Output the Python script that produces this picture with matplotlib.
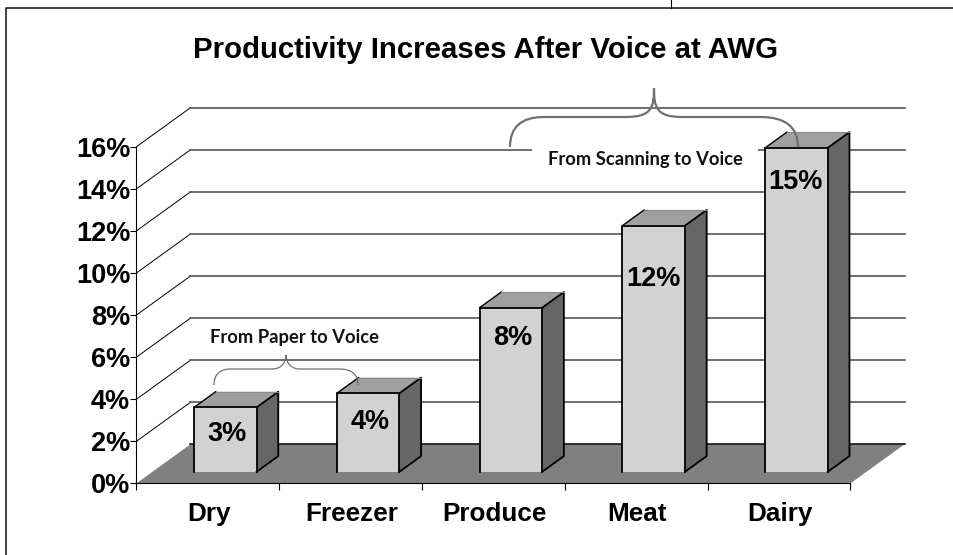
import matplotlib
matplotlib.use('Agg')
import matplotlib.pyplot as plt
from matplotlib.patches import Polygon, PathPatch, Rectangle
from matplotlib.path import Path

categories = ['Dry', 'Freezer', 'Produce', 'Meat', 'Dairy']
values = [3.06, 3.73, 7.8, 11.7, 15.4]
bar_labels = ['3%', '4%', '8%', '12%', '15%']
y_ticks = [0, 2, 4, 6, 8, 10, 12, 14, 16]

W, H = 954, 555
plt.rcParams['font.family'] = ['Liberation Sans', 'DejaVu Sans']

fig = plt.figure(figsize=(W / 100, H / 100), dpi=100)
# plot box in pixels: x 136.5-850.5, y 483.3 (0%) - 146.7 (16%)
ax = fig.add_axes([136.5 / W, 1 - 483.3 / H, 714 / W, 336.6 / H])
ax.set_xlim(0, 5)
ax.set_ylim(0, 16)
for s in ['top', 'right']:
    ax.spines[s].set_visible(False)
for s in ['left', 'bottom']:
    ax.spines[s].set_linewidth(0.8)
    ax.spines[s].set_zorder(2.5)

# depth of the fake 3d box, in data units
DX, DY = 54 / 142.8, 39 / 21.04


def pr(x, y, d):
    return (x + d * DX, y + d * DY)


# floor
ax.add_patch(Polygon([pr(0, 0, 0), pr(5, 0, 0), pr(5, 0, 1), pr(0, 0, 1)],
                     fc='#808080', ec='none', clip_on=False, zorder=1))
ax.plot(*zip(pr(0, 0, 1), pr(5, 0, 1)), color='black', lw=1.1, clip_on=False, zorder=1.2)

# walls
for t in y_ticks[1:]:
    ax.plot(*zip(pr(0, t, 0), pr(0, t, 1)), color='black', lw=0.7, clip_on=False, zorder=1.1)
    ax.plot(*zip(pr(0, t, 1), pr(5, t, 1)), color='#5c5c5c', lw=1.25, clip_on=False, zorder=1.1)

# bars
half = 62.6 / 142.8 / 2
d0, d1 = 0.297, 0.697
for i, v in enumerate(values):
    c = i + 0.51
    l, r = c - half, c + half
    front = [pr(l, 0, d0), pr(r, 0, d0), pr(r, v, d0), pr(l, v, d0)]
    side = [pr(r, 0, d0), pr(r, 0, d1), pr(r, v, d1), pr(r, v, d0)]
    top = [pr(l, v, d0), pr(r, v, d0), pr(r, v, d1), pr(l, v, d1)]
    ax.add_patch(Polygon(top, fc='#9f9f9f', ec='none', clip_on=False, zorder=3))
    ax.add_patch(Polygon(side, fc='#666666', ec='none', clip_on=False, zorder=3))
    ax.add_patch(Polygon(front, fc='#d2d2d2', ec='none', clip_on=False, zorder=3))
    ax.plot(*zip(front[0], front[3], front[2], front[1]), color='black', lw=1.3,
            clip_on=False, zorder=3.1)
    ax.plot(*zip(front[1], side[1], side[2], front[2]), color='black', lw=1.3,
            clip_on=False, zorder=3.1)
    ax.plot(*zip(front[3], top[3]), color='black', lw=1.0, clip_on=False, zorder=3.1)
    ax.plot(*zip(top[3], top[2]), color='#8a8a8a', lw=0.8, clip_on=False, zorder=3.1)

# value labels, offset in points from the top of the front face
lab_dx = [1, 1.3, 1, -0.5, -0.5]
lab_dy = [-19.5, -21, -22, -38.3, -25]
for i, v in enumerate(values):
    ax.annotate(bar_labels[i], pr(i + 0.51, v, d0), xytext=(lab_dx[i], lab_dy[i]),
                textcoords='offset points', ha='center', va='center',
                fontsize=19.5, fontweight='bold', color='black', zorder=4,
                annotation_clip=False)

ax.set_yticks(y_ticks)
ax.set_yticklabels(['%d%%' % t for t in y_ticks], fontsize=19.5, fontweight='bold')
ax.set_xticks(range(6))
ax.set_xticklabels([])
ax.tick_params(axis='both', length=4, width=0.8, pad=0.5)
ax.tick_params(axis='x', length=5)
for i, c in enumerate(categories):
    ax.annotate(c, (i + 0.5, 0), xytext=(0.8, -22), textcoords='offset points',
                ha='center', va='center', fontsize=18.8, fontweight='bold',
                annotation_clip=False)

# overlay in image pixels for frame, title and the hand drawn callouts
ov = fig.add_axes([0, 0, 1, 1], facecolor='none')
ov.set_xlim(0, W)
ov.set_ylim(H, 0)
ov.axis('off')
ov.plot([6.5, 6.5, W], [H, 7.5, 7.5], color='#101010', lw=1.1)
ov.plot([671.5, 671.5], [0, 7.5], color='black', lw=0.8)
ov.text(486, 58, 'Productivity Increases After Voice at AWG', ha='center', va='baseline',
        fontsize=21.2, fontweight='bold')

ov.add_patch(Rectangle((532, 147), 226, 20, fc='white', ec='none'))
ov.text(645, 159, 'From Scanning to Voice', ha='center', va='center', fontsize=13.2,
        fontweight='bold', family='Lato', color='#111111')
ov.text(295, 337, 'From Paper to Voice', ha='center', va='center', fontsize=13.2,
        fontweight='bold', family='Lato', color='#111111')


def brace(x0, y0, x1, y1, xm, tip):
    # curly bracket: ends at y0, straight run at y1, point at tip
    w = (xm - x0) * 0.26
    verts = [(x0, y0), (x0, y1), (x0 + w * 0.9, y1), (x0 + w, y1),
             (xm - w * 0.9, y1), (xm - w * 0.9, y1), (xm - w * 0.75, y1),
             (xm - 2, y1), (xm, y1 - 10), (xm, tip),
             (xm, y1 - 10), (xm + 2, y1), (xm + w * 0.75, y1),
             (x1 - w, y1), (x1 - w, y1), (x1 - w, y1),
             (x1, y1), (x1, y0)]
    codes = [Path.MOVETO] + [Path.CURVE3, Path.CURVE3] + [Path.LINETO] + [Path.LINETO] * 2 + [Path.LINETO] + \
            [Path.CURVE4] * 3 + [Path.CURVE4] * 3 + [Path.LINETO] * 3 + [Path.CURVE3] * 2
    return Path(verts, codes)


ov.add_patch(PathPatch(brace(510, 147, 798, 117, 654, 88), fc='none', ec='#707070', lw=1.6))
ov.add_patch(PathPatch(brace(214, 385, 358, 369, 286, 355), fc='none', ec='#707070', lw=0.9))

fig.savefig('out.png', dpi=100)
